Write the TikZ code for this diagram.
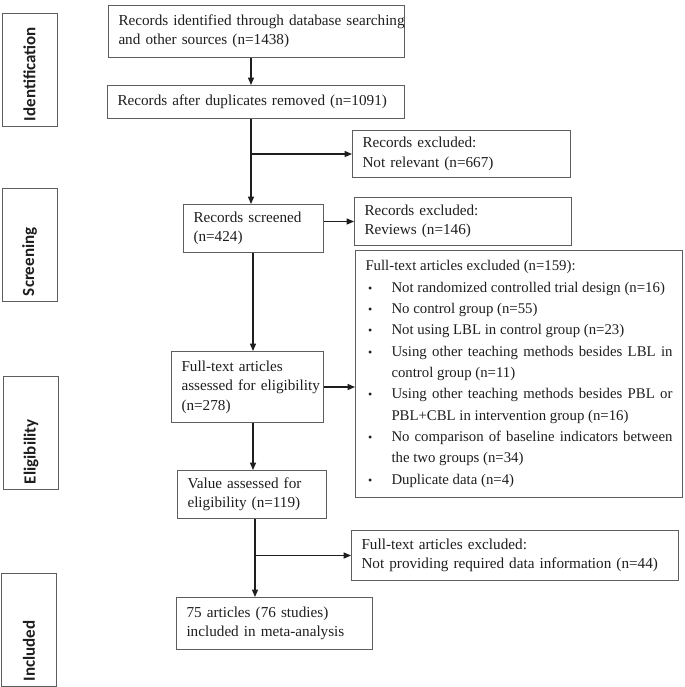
\documentclass[tikz,border=0pt]{standalone}
\usepackage{fontspec}
\setmainfont{Liberation Serif}
\newfontfamily\stagefont{Carlito}
\usetikzlibrary{arrows.meta}
\definecolor{frame}{HTML}{5E5E5E}
\definecolor{ink}  {HTML}{1E1E1E}
\newcommand{\exitem}[1]{\par\noindent\hangindent=19.5pt\hangafter=1
  \makebox[19.5pt][l]{\hspace{2pt}{\small\textbullet}}#1}
\newcommand{\padleft}{\leftskip=6pt\relax\hyphenpenalty=10000\relax}
\tikzset{
  every node/.style={font=\fontsize{11.4}{14.6}\selectfont, text=ink},
  % --- nodes
  box/.style   = {draw=frame, line width=0.75pt, anchor=north west, align=left,
                  inner ysep=0pt},
  bx/.style 2 args = {box, inner xsep=1.5pt, text width=(#1-4)*0.75pt,
                  minimum height=#2*0.75pt, execute at begin node=\padleft},
  stage/.style = {draw=frame, line width=0.75pt, rotate=90, align=left,
                  minimum width=113*0.75pt, minimum height=55*0.75pt,
                  text width=103*0.75pt, inner xsep=3.75pt, inner ysep=0pt,
                  font=\fontsize{12.75}{15}\selectfont\stagefont\bfseries},
  % --- edges
  e/.style     = {-{Triangle[length=5.5pt,width=4.5pt]}, line width=0.9pt, draw=ink},
}
\begin{document}
\begin{tikzpicture}[x=0.75pt,y=-0.75pt]
  \useasboundingbox (0,0) rectangle (685,687);
  % stages
  \node[stage] (ident) at (29.5,69.5) {Identification};
  \node[stage] (screen) at (29.5,244.5) {Screening};
  \node[stage] (elig) at (31,432.5) {Eligibility};
  \node[stage] (incl) at (29,630) {Included};
  % main column
  \node[bx={296}{52}] (rec) at (108,5) {\mbox{Records identified through database searching}\\and other sources (n=1438)};
  \node[bx={297}{33}] (dup) at (107,85) {Records after duplicates removed (n=1091)};
  \node[bx={140}{48}] (scr) at (183,204) {Records screened\\(n=424)};
  \node[bx={152}{71}] (full) at (171,351) {Full-text articles\\assessed for eligibility\\(n=278)};
  \node[bx={149}{48}] (val) at (177,470) {Value assessed for\\eligibility (n=119)};
  \node[bx={196}{52}] (inc) at (176,597) {75 articles (76 studies)\\included in meta-analysis};
  % excluded
  \node[bx={218}{47}] (exrel) at (352,130) {Records excluded:\\Not relevant (n=667)};
  \node[bx={217}{48}] (exrev) at (354,197) {Records excluded:\\Reviews (n=146)};
  \node[box, inner xsep=7.5pt, text width=307*0.75pt, minimum height=247*0.75pt,
        align=justify, font=\fontsize{11.1}{16}\selectfont] (exfull) at (355,250) {%
    Full-text articles excluded (n=159):
    \exitem{Not randomized controlled trial design (n=16)}
    \exitem{No control group (n=55)}
    \exitem{Not using LBL in control group (n=23)}
    \exitem{Using other teaching methods besides LBL in\linebreak control group (n=11)}
    \exitem{Using other teaching methods besides PBL or\linebreak PBL+CBL in intervention group (n=16)}
    \exitem{No comparison of baseline indicators between\linebreak the two groups (n=34)}
    \exitem{Duplicate data (n=4)}};
  \node[bx={327}{50}] (exdata) at (351,530) {Full-text articles excluded:\\Not providing required data information (n=44)};
  % trunks
  \coordinate (ax1) at (251,0);
  \coordinate (ax2) at (253,0);
  \coordinate (ax3) at (255,0);
  \draw[e] (rec.south -| ax1) -- (dup.north -| ax1);
  \draw[e] (dup.south -| ax1) -- (scr.north -| ax1);
  \draw[e] (exrel.west -| ax1) -- (exrel.west);
  \draw[e] (exrev.west -| scr.east) -- (exrev.west);
  \draw[e] (scr.south -| ax2) -- (full.north -| ax2);
  \draw[e] (full.east) -- (full.east -| exfull.west);
  \draw[e] (full.south -| ax2) -- (val.north -| ax2);
  \draw[e] (val.south -| ax3) -- (inc.north -| ax3);
  \draw[e] (exdata.west -| ax3) -- (exdata.west);
\end{tikzpicture}
\end{document}
